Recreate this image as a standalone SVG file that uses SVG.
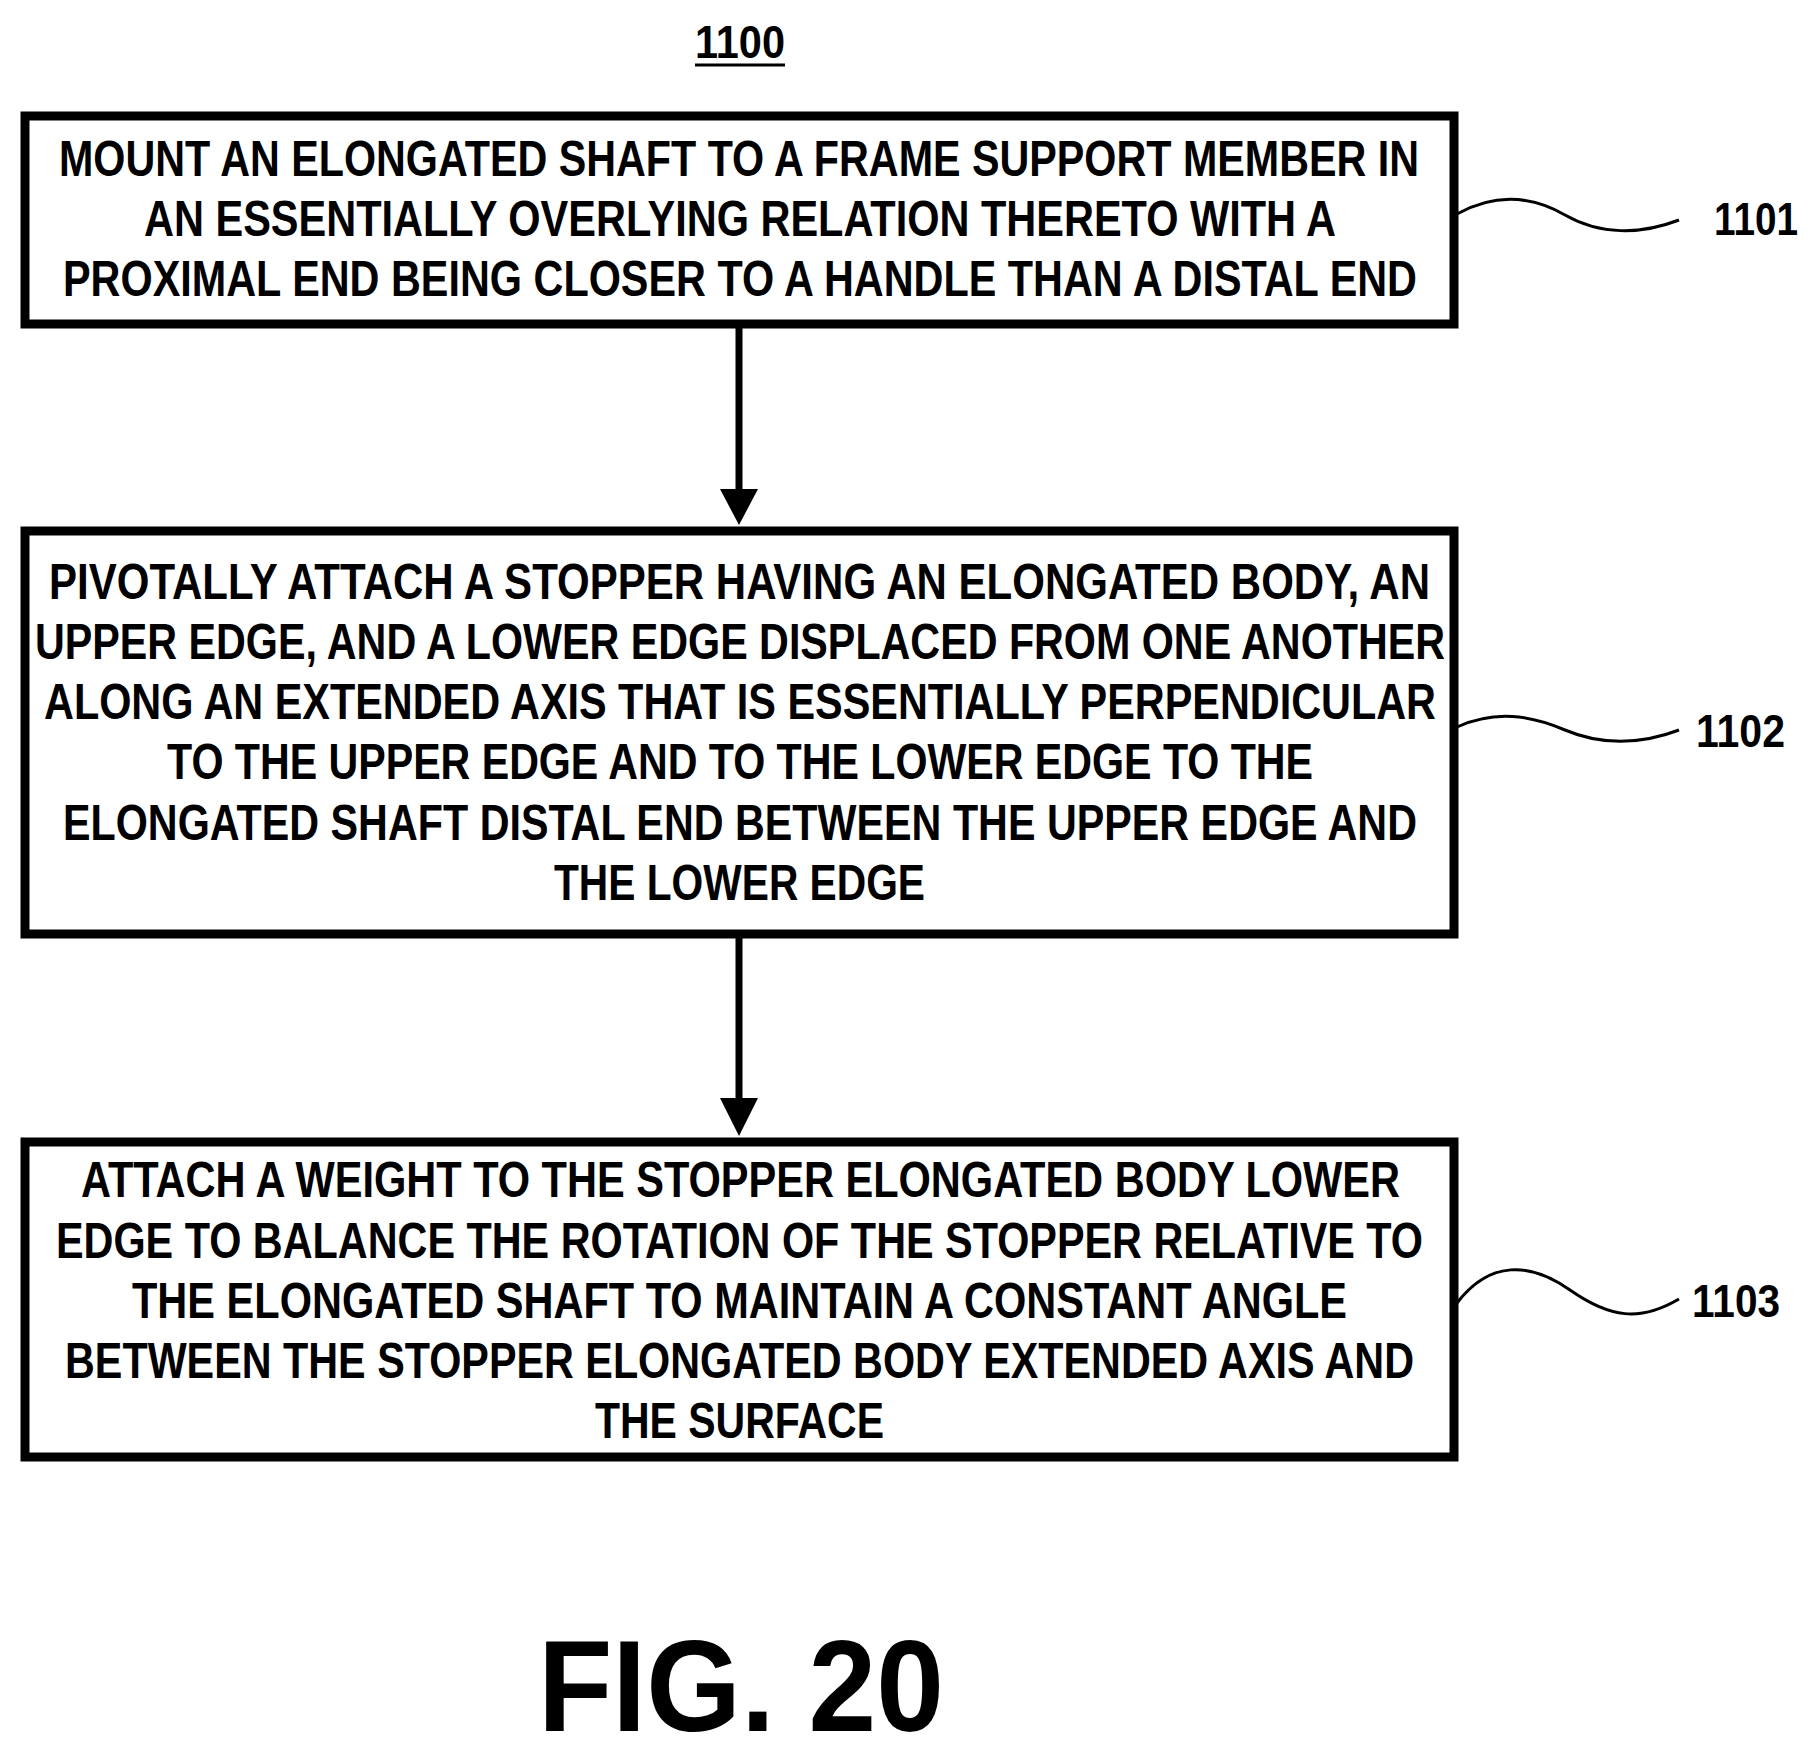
<svg xmlns="http://www.w3.org/2000/svg" width="1811" height="1752" viewBox="0 0 1811 1752">
<style>
.box{fill:#fff;stroke:#000;stroke-width:9}
.t{font-family:"Liberation Sans",Arial,sans-serif;font-weight:bold;font-size:50px;fill:#000}
.lbl{font-family:"Liberation Sans",Arial,sans-serif;font-weight:bold;font-size:46px;fill:#000}
.c{stroke:#000;stroke-width:7;fill:none}
.sq{stroke:#000;stroke-width:3;fill:none}
</style>
<defs><marker id="ah" markerWidth="10" markerHeight="10" refX="10" refY="5" orient="auto" markerUnits="userSpaceOnUse" viewBox="0 0 10 10"><path d="M0,0 L10,5 L0,10 z" fill="#000"/></marker></defs>
<rect width="1811" height="1752" fill="#fff"/>
<text class="lbl" x="695" y="58" textLength="90" lengthAdjust="spacingAndGlyphs">1100</text>
<line x1="695" y1="65" x2="785" y2="65" stroke="#000" stroke-width="3"/>
<g id="connectors">
<line class="c" x1="739" y1="326" x2="739" y2="492"/>
<path d="M720,489 L758,489 L739,525 z" fill="#000"/>
<line class="c" x1="739" y1="936" x2="739" y2="1101"/>
<path d="M720,1098 L758,1098 L739,1136 z" fill="#000"/>
<path class="sq" d="M1457,214 C1495,193 1530,195 1565,215 S1640,235 1679,220"/>
<path class="sq" d="M1457,727 C1495,710 1530,715 1565,730 S1640,745 1679,730"/>
<path class="sq" d="M1457,1303 C1490,1260 1530,1262 1570,1290 S1640,1322 1679,1299"/>
</g>
<g id="n1101">
<rect class="box" x="25" y="116" width="1429" height="208"/>
<text class="t" x="59" y="176" textLength="1360" lengthAdjust="spacingAndGlyphs">MOUNT AN ELONGATED SHAFT TO A FRAME SUPPORT MEMBER IN</text>
<text class="t" x="144" y="236" textLength="1192" lengthAdjust="spacingAndGlyphs">AN ESSENTIALLY OVERLYING RELATION THERETO WITH A</text>
<text class="t" x="63" y="296" textLength="1354" lengthAdjust="spacingAndGlyphs">PROXIMAL END BEING CLOSER TO A HANDLE THAN A DISTAL END</text>
<text class="lbl" x="1714" y="235" textLength="84" lengthAdjust="spacingAndGlyphs">1101</text>
</g>
<g id="n1102">
<rect class="box" x="25" y="531" width="1429" height="403"/>
<text class="t" x="49" y="599" textLength="1381" lengthAdjust="spacingAndGlyphs">PIVOTALLY ATTACH A STOPPER HAVING AN ELONGATED BODY, AN</text>
<text class="t" x="35" y="659" textLength="1410" lengthAdjust="spacingAndGlyphs">UPPER EDGE, AND A LOWER EDGE DISPLACED FROM ONE ANOTHER</text>
<text class="t" x="44" y="719" textLength="1392" lengthAdjust="spacingAndGlyphs">ALONG AN EXTENDED AXIS THAT IS ESSENTIALLY PERPENDICULAR</text>
<text class="t" x="167" y="779" textLength="1146" lengthAdjust="spacingAndGlyphs">TO THE UPPER EDGE AND TO THE LOWER EDGE TO THE</text>
<text class="t" x="63" y="840" textLength="1354" lengthAdjust="spacingAndGlyphs">ELONGATED SHAFT DISTAL END BETWEEN THE UPPER EDGE AND</text>
<text class="t" x="554" y="900" textLength="371" lengthAdjust="spacingAndGlyphs">THE LOWER EDGE</text>
<text class="lbl" x="1696" y="747" textLength="89" lengthAdjust="spacingAndGlyphs">1102</text>
</g>
<g id="n1103">
<rect class="box" x="25" y="1142" width="1429" height="315"/>
<text class="t" x="81" y="1197" textLength="1319" lengthAdjust="spacingAndGlyphs">ATTACH A WEIGHT TO THE STOPPER ELONGATED BODY LOWER</text>
<text class="t" x="56" y="1258" textLength="1367" lengthAdjust="spacingAndGlyphs">EDGE TO BALANCE THE ROTATION OF THE STOPPER RELATIVE TO</text>
<text class="t" x="132" y="1318" textLength="1215" lengthAdjust="spacingAndGlyphs">THE ELONGATED SHAFT TO MAINTAIN A CONSTANT ANGLE</text>
<text class="t" x="65" y="1378" textLength="1349" lengthAdjust="spacingAndGlyphs">BETWEEN THE STOPPER ELONGATED BODY EXTENDED AXIS AND</text>
<text class="t" x="595" y="1438" textLength="289" lengthAdjust="spacingAndGlyphs">THE SURFACE</text>
<text class="lbl" x="1692" y="1317" textLength="88" lengthAdjust="spacingAndGlyphs">1103</text>
</g>
<text x="538" y="1731" font-family="Liberation Sans,Arial,sans-serif" font-weight="bold" font-size="130" textLength="406" lengthAdjust="spacingAndGlyphs">FIG. 20</text>
</svg>
